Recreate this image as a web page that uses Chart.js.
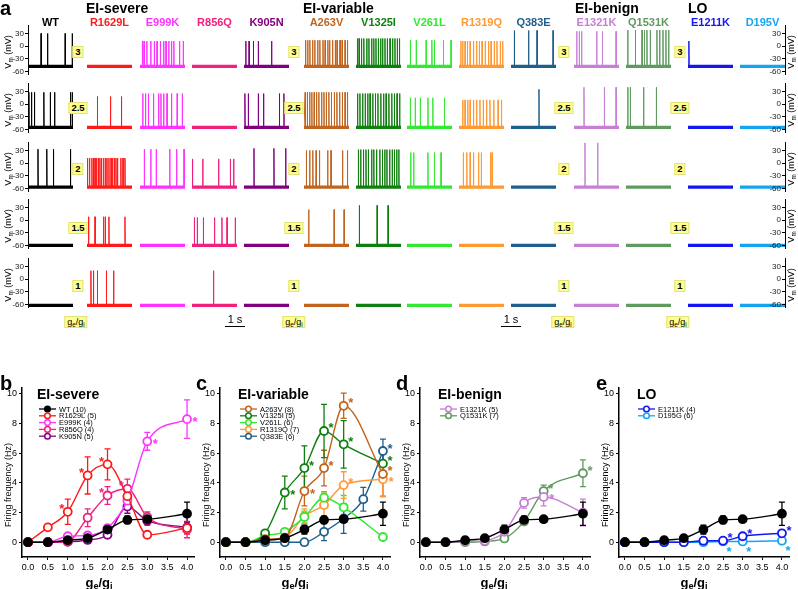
<!DOCTYPE html>
<html>
<head>
<meta charset="utf-8">
<script src="https://cdn.jsdelivr.net/npm/chart.js@4.4.1/dist/chart.umd.min.js"></script>
<style>
  body { margin: 0; background: #fff; font-family: "Liberation Sans", Arial, sans-serif; }
  #page { position: relative; width: 798px; height: 589px; overflow: hidden; }
  #page canvas { position: absolute; }
  .t { position: absolute; white-space: nowrap; color: #000; }
  .c { transform: translate(-50%, -50%); }
  .rot { transform: translate(-50%, -50%) rotate(-90deg); }
  .box { background: #ffff8f; border: 1px solid #e2e27a; padding: 0 2px; line-height: 10px; }
  sub { font-size: 70%; vertical-align: -2px; line-height: 0; }
</style>
</head>
<body>
<div id="page"></div>
<script>
// ---------- panel a: example traces ----------
const genotypes = ['WT', 'R1629L', 'E999K', 'R856Q', 'K905N', 'A263V', 'V1325I', 'V261L',
  'R1319Q', 'Q383E', 'E1321K', 'Q1531K', 'E1211K', 'D195V'];
const genoColors = ['#000000', '#ff1a1a', '#ff33ff', '#f0217d', '#800080', '#c0641e', '#0f7f0f',
  '#33e833', '#ff9933', '#1f5f8c', '#c77fd6', '#5f9a5f', '#1515f0', '#15a5f0'];
const gainSteps = ['3', '2.5', '2', '1.5', '1'];
const restVm = [-48, -55, -57, -60, -62];   // mV, baseline of each gain row
const TRACE_DUR = 2.3;                      // s

// spike times (s), one list per genotype
const spikesG3 = [
  [0.67, 1.0, 1.9, 2.26],
  [],
  [0.12, 0.21, 0.35, 0.55, 0.73, 0.87, 1.04, 1.21, 1.33, 1.47, 1.61, 1.73, 2.02, 2.21],
  [],
  [0.09, 0.26, 0.48, 0.73, 1.41],
  [0.08, 0.19, 0.3, 0.44, 0.55, 0.7, 0.81, 0.97, 1.08, 1.22, 1.31, 1.46, 1.6, 1.69, 1.84, 1.95, 2.1, 2.22],
  [0.07, 0.16, 0.28, 0.4, 0.55, 0.66, 0.8, 0.91, 1.02, 1.14, 1.26, 1.36, 1.48, 1.6, 1.74, 1.87, 1.99, 2.11, 2.22],
  [0.17, 0.47, 0.98, 1.27, 1.4, 1.86, 2.25],
  [0.09, 0.19, 0.31, 0.43, 0.57, 0.74, 0.9, 1.04, 1.18, 1.34, 1.51, 1.64, 1.8, 1.94, 2.11, 2.23],
  [0.17, 0.9, 1.33, 2.15],
  [0.14, 0.27, 0.39, 1.16, 1.45, 2.15],
  [0.09, 0.48, 0.82, 0.94, 1.07, 1.24, 1.58, 1.72, 1.89, 2.04, 2.18],
  [0.05],
  []
];
const spikesG25 = [
  [0.05, 0.18, 0.33, 0.81, 1.14, 1.36, 2.17, 2.26],
  [0.53, 1.2, 1.76],
  [0.14, 0.28, 0.43, 0.69, 0.95, 1.07, 1.21, 1.38, 1.61, 1.9, 2.16],
  [],
  [0.05, 0.22, 0.73, 1.0, 1.81, 2.04],
  [0.06, 0.17, 0.29, 0.4, 0.52, 0.64, 0.76, 0.9, 1.02, 1.14, 1.27, 1.4, 1.55, 1.68, 1.82, 1.96, 2.1, 2.22],
  [0.08, 0.2, 0.34, 0.47, 0.6, 0.72, 0.86, 0.99, 1.12, 1.27, 1.41, 1.54, 1.68, 1.83, 1.96, 2.1, 2.23],
  [0.17, 0.42, 0.68, 1.07, 1.32, 1.91],
  [0.19, 0.31, 0.45, 0.57, 0.74, 0.9, 1.07, 1.24, 1.41, 1.58, 1.78, 2.0, 2.17],
  [1.43],
  [0.51, 1.55, 2.15],
  [0.09, 0.22, 0.9, 1.55],
  [],
  []
];
const spikesG2 = [
  [0.51, 0.96, 1.3, 2.17],
  [0.03, 0.13, 0.25, 0.33, 0.41, 0.49, 0.58, 0.66, 0.74, 0.85, 0.95, 1.02, 1.12, 1.23, 1.31, 1.4, 1.48, 1.56, 1.73, 1.84, 1.94],
  [0.22, 0.55, 0.83, 1.52, 1.87, 2.25],
  [0.03, 0.55, 1.36, 1.96, 2.13],
  [0.51, 1.53, 2.13],
  [0.12, 0.29, 0.45, 0.62, 0.79, 1.21, 1.38, 1.97, 2.22],
  [0.12, 0.24, 0.38, 0.51, 0.63, 0.8, 0.91, 1.05, 1.22, 1.35, 1.47, 1.58, 1.72, 1.85, 1.96, 2.08, 2.19],
  [0.19, 0.34, 1.07, 1.4, 1.74],
  [0.22, 0.4, 0.57, 0.74, 1.0, 1.14, 1.61, 1.69],
  [],
  [0.56, 1.21],
  [],
  [],
  []
];
const spikesG15 = [
  [], [0.08, 0.41, 0.85, 0.94, 1.12, 1.94], [], [0.12, 0.27, 0.58, 1.15, 1.53, 1.79, 2.21], [],
  [0.24, 1.54, 2.05], [0.17, 1.08, 1.64], [], [], [], [], [], [], []
];
const spikesG1 = [
  [], [0.2, 0.33, 0.53, 0.99, 1.36], [], [1.1], [], [], [], [], [], [], [], [], [], []
];
// spike peak (mV) per genotype
const peaksG3 = [30, 0, 12, 0, 12, 14, 18, 14, 12, 37, 35, 38, 12, 0];
const peaksG25 = [28, 18, 25, 0, 25, 28, 25, 15, 10, 35, 40, 40, 0, 0];
const peaksG2 = [33, 12, 33, 10, 35, 30, 32, 25, 25, 0, 48, 0, 0, 0];
const peaksG15 = [0, 8, 0, 6, 0, 25, 35, 0, 0, 0, 0, 0, 0, 0];
const peaksG1 = [0, 20, 0, 20, 0, 0, 0, 0, 0, 0, 0, 0, 0, 0];

const spikeTimes = [spikesG3, spikesG25, spikesG2, spikesG15, spikesG1];
const spikePeaks = [peaksG3, peaksG25, peaksG2, peaksG15, peaksG1];

// ---------- panels b-e: firing frequency vs ge/gi ----------
const ratio = [0, 0.5, 1, 1.5, 2, 2.5, 3, 4];
const ratioQ383E = [0, 0.5, 1, 1.5, 2, 2.5, 3, 3.5, 4];

const wtHz = [0, 0, 0.13, 0.27, 0.85, 1.5, 1.55, 1.92];
const wtSem = [0, 0, 0.05, 0.08, 0.3, 0.25, 0.15, 0.78];

const r1629lHz = [0, 1.0, 2.05, 4.5, 5.25, 3.1, 0.5, 0.95];
const r1629lSem = [0, 0.2, 0.85, 1.25, 1.05, 0.5, 0.15, 0.4];
const e999kHz = [0, 0, 0.4, 0.45, 0.95, 2.8, 6.8, 8.3];
const e999kSem = [0, 0, 0.1, 0.15, 0.15, 0.5, 0.6, 1.3];
const r856qHz = [0, 0, 0.05, 1.65, 3.15, 3.6, 1.7, 0.85];
const r856qSem = [0, 0, 0.05, 0.6, 0.6, 0.65, 0.35, 0.55];
const k905nHz = [0, 0, 0.02, 0.15, 0.5, 2.4, 1.45, 1.0];
const k905nSem = [0, 0, 0.02, 0.1, 0.15, 0.45, 0.3, 0.35];

const a263vHz = [0, 0, 0.2, 0.3, 3.45, 5.0, 9.2, 4.6];
const a263vSem = [0, 0, 0.1, 0.15, 1.0, 1.2, 0.85, 1.5];
const v1325iHz = [0, 0, 0.6, 3.35, 5.0, 7.5, 6.6, 5.3];
const v1325iSem = [0, 0, 0.15, 1.1, 1.5, 1.8, 1.6, 0.8];
const v261lHz = [0, 0, 0.45, 0.7, 1.7, 3.0, 2.35, 0.35];
const v261lSem = [0, 0, 0.1, 0.2, 0.4, 0.4, 0.8, 0.1];
const r1319qHz = [0, 0, 0.15, 0.3, 1.75, 2.5, 3.85, 4.25];
const r1319qSem = [0, 0, 0.1, 0.15, 0.5, 0.8, 0.9, 1.2];
const q383eHz = [0, 0, 0, 0, 0, 0.7, 1.6, 2.9, 6.15];
const q383eSem = [0, 0, 0, 0, 0, 0.6, 1.0, 0.8, 0.8];

const e1321kHz = [0, 0, 0.05, 0.1, 0.7, 2.65, 3.05, 2.0];
const e1321kSem = [0, 0, 0.03, 0.05, 0.15, 0.35, 0.6, 0.9];
const q1531kHz = [0, 0, 0, 0.05, 0.25, 1.4, 3.45, 4.65];
const q1531kSem = [0, 0, 0, 0.03, 0.1, 0.2, 0.4, 0.9];

const e1211kHz = [0, 0, 0, 0, 0.1, 0.1, 0.4, 0.6];
const e1211kSem = [0, 0, 0, 0, 0.05, 0.05, 0.1, 0.2];
const d195gHz = [0, 0, 0, 0, 0, 0.05, 0.05, 0.1];
const d195gSem = [0, 0, 0, 0, 0, 0.03, 0.03, 0.05];

// significance marks: [ge/gi, side of the point]
const sigR1629L = [[1, 'ul'], [1.5, 'ul'], [2, 'ul']];
const sigR856Q = [[2, 'ul'], [2.5, 'ul']];
const sigE999K = [[3, 'r'], [4, 'r']];
const sigA263V = [[2, 'r'], [2.5, 'ur'], [3, 'ur'], [4, 'ur']];
const sigV1325I = [[1.5, 'r'], [2, 'ur'], [2.5, 'ur'], [3, 'ur'], [4, 'ur']];
const sigR1319Q = [[3, 'ur'], [4, 'r']];
const sigQ383E = [[4, 'ur']];
const sigE1321K = [[3, 'r']];
const sigQ1531K = [[3, 'ur'], [4, 'ur']];
const sigE1211K = [[2.5, 'ur'], [3, 'ur'], [4, 'ur']];
const sigD195G = [[2.5, 'dr'], [3, 'dr'], [4, 'dr']];

// ---------- layout ----------
const page = document.getElementById('page');
const FONT = '"Liberation Sans", Arial, sans-serif';
Chart.defaults.font.family = FONT;
Chart.defaults.color = '#000';

const colX = [28, 87, 140, 192, 244, 304, 356, 407, 459, 511, 574, 626, 688, 740];
const TRACE_W = 45, TRACE_H = 49, PAD_V = 6;
const VM_MIN = -66, VM_MAX = 50;
const row30 = [33, 91, 150, 207, 266];   // y pixel of the +30 mV tick per row
const pxPerMv = TRACE_H / (VM_MAX - VM_MIN);

function addCanvas(left, top, w, h) {
  const cv = document.createElement('canvas');
  cv.width = w; cv.height = h;
  cv.style.left = left + 'px'; cv.style.top = top + 'px';
  cv.style.width = w + 'px'; cv.style.height = h + 'px';
  page.appendChild(cv);
  return cv;
}

function addText(html, x, y, css, cls) {
  const d = document.createElement('div');
  d.className = 't ' + (cls || 'c');
  d.innerHTML = html;
  d.style.left = x + 'px'; d.style.top = y + 'px';
  d.style.cssText += css || '';
  page.appendChild(d);
  return d;
}

// y axis in mV, drawn on the left edge of a chart area
function vmAxis(width) {
  return {
    min: VM_MIN, max: VM_MAX, position: 'left',
    afterFit: s => { s.width = width; },
    border: { color: '#000', width: 1 },
    grid: { drawOnChartArea: false, tickLength: 3, color: '#000' },
    ticks: { stepSize: 30, includeBounds: false, padding: 1, font: { size: 8 }, color: '#222' }
  };
}

function drawTrace(r, c) {
  const axL = c === 0 ? 27 : 0;
  const top = row30[r] - (VM_MAX - 30) * pxPerMv - PAD_V;
  const cv = addCanvas(colX[c] - axL, top, TRACE_W + axL, TRACE_H + 2 * PAD_V);
  const base = restVm[r], peak = spikePeaks[r][c], col = genoColors[c];
  const pts = [{x: 0, y: base}];
  spikeTimes[r][c].forEach(t => {
    pts.push({x: t - 0.01, y: base}, {x: t, y: peak}, {x: t + 0.012, y: base});
  });
  pts.push({x: TRACE_DUR, y: base});

  const yScale = c === 0 ? vmAxis(axL) : { min: VM_MIN, max: VM_MAX, display: false };
  new Chart(cv, {
    type: 'line',
    data: {
      datasets: [
        { data: [{x: 0, y: base}, {x: TRACE_DUR, y: base}], borderColor: col, borderWidth: 3.2 },
        { data: pts, borderColor: col, borderWidth: 1 }
      ]
    },
    options: {
      responsive: false, animation: false, events: [],
      layout: { padding: { top: PAD_V, bottom: PAD_V, left: 0, right: 0 } },
      elements: { point: { radius: 0 }, line: { tension: 0 } },
      plugins: { legend: { display: false }, tooltip: { enabled: false } },
      scales: {
        x: { type: 'linear', min: 0, max: TRACE_DUR, display: false },
        y: yScale
      }
    }
  });
}

// right-hand mV axis: labels sit left of the line, over the last trace
function drawRightAxis(r) {
  const axisX = colX[colX.length - 1] + TRACE_W;
  const top = row30[r] - (VM_MAX - 30) * pxPerMv - PAD_V;
  const cv = addCanvas(axisX - 20, top, 21, TRACE_H + 2 * PAD_V);
  new Chart(cv, {
    type: 'line',
    data: { datasets: [] },
    options: {
      responsive: false, animation: false, events: [],
      layout: { padding: { top: PAD_V, bottom: PAD_V, left: 0, right: 0 } },
      plugins: { legend: { display: false }, tooltip: { enabled: false } },
      scales: {
        x: { type: 'linear', min: 0, max: 1, display: false },
        y: vmAxis(20)
      }
    }
  });
}

for (let r = 0; r < gainSteps.length; r++) {
  for (let c = 0; c < genotypes.length; c++) drawTrace(r, c);
  drawRightAxis(r);
}

// panel a text
addText('a', 0, -3, 'font-weight:bold;font-size:20px;', 'x');
addText('EI-severe', 86, 0, 'font-weight:bold;font-size:14px;', 'x');
addText('EI-variable', 303, 0, 'font-weight:bold;font-size:14px;', 'x');
addText('EI-benign', 575, 0, 'font-weight:bold;font-size:14px;', 'x');
addText('LO', 688, 0, 'font-weight:bold;font-size:14px;', 'x');
genotypes.forEach((g, c) => {
  addText(g, colX[c] + TRACE_W / 2, 21.5, `font-weight:bold;font-size:11px;color:${genoColors[c]};`);
});
const gainBoxX = [78, 294, 564, 680];
const gainBoxY = [52, 108, 169, 228, 286];
gainSteps.forEach((g, r) => {
  gainBoxX.forEach(x => addText(g, x, gainBoxY[r], 'font-weight:bold;font-size:9.5px;', 'c box'));
  addText('V<sub>m</sub> (mV)', 8, row30[r] + 19, 'font-size:9px;', 'rot');
  addText('V<sub>m</sub> (mV)', 791, row30[r] + 19, 'font-size:9px;', 'rot');
});
[76, 294, 563, 678].forEach(x => addText('g<sub>e</sub>/g<sub>i</sub>', x, 322, 'font-size:9px;', 'c box'));
const pxPerSec = TRACE_W / TRACE_DUR;
[235, 511].forEach(x => {
  addText('1 s', x, 318.5, 'font-size:11px;');
  const bar = document.createElement('div');
  bar.style.cssText = `position:absolute;left:${x - pxPerSec / 2}px;top:326px;width:${pxPerSec}px;height:0;border-top:1.6px solid #000;`;
  page.appendChild(bar);
});

// ---------- plugins for panels b-e ----------
const errorBars = {
  id: 'errorBars',
  beforeDatasetsDraw(chart) {
    const ctx = chart.ctx, ys = chart.scales.y;
    chart.data.datasets.forEach((ds, i) => {
      const meta = chart.getDatasetMeta(i);
      ctx.save();
      ctx.strokeStyle = ds.borderColor; ctx.lineWidth = 1.3;
      meta.data.forEach((pt, j) => {
        const v = ds.data[j].y, e = ds.sem[j];
        if (!e || e < 0.12) return;
        const y1 = ys.getPixelForValue(v + e), y2 = ys.getPixelForValue(v - e);
        ctx.beginPath();
        ctx.moveTo(pt.x, y1); ctx.lineTo(pt.x, y2);
        ctx.moveTo(pt.x - 3, y1); ctx.lineTo(pt.x + 3, y1);
        ctx.moveTo(pt.x - 3, y2); ctx.lineTo(pt.x + 3, y2);
        ctx.stroke();
      });
      ctx.restore();
    });
  }
};

const starOffset = { ur: [7, -6], ul: [-6, -6], r: [8, -1], dr: [6, 7] };
const sigStars = {
  id: 'sigStars',
  afterDatasetsDraw(chart) {
    const ctx = chart.ctx;
    chart.data.datasets.forEach((ds, i) => {
      if (!ds.sig) return;
      const meta = chart.getDatasetMeta(i);
      ctx.save();
      ctx.fillStyle = ds.borderColor;
      ctx.font = 'bold 13px ' + FONT;
      ctx.textAlign = 'center'; ctx.textBaseline = 'alphabetic';
      ds.sig.forEach(([x, side]) => {
        const j = ds.data.findIndex(d => d.x === x);
        const pt = meta.data[j], off = starOffset[side];
        ctx.fillText('*', pt.x + off[0], pt.y + off[1] + 7.5);
      });
      ctx.restore();
    });
  }
};

const lineLegend = {
  id: 'lineLegend',
  afterDraw(chart, args, opts) {
    const ctx = chart.ctx, a = chart.chartArea;
    chart.data.datasets.filter(ds => ds.inLegend).forEach((ds, i) => {
      const x = a.left + opts.x, y = a.top + opts.y + i * opts.gap;
      ctx.save();
      ctx.strokeStyle = ds.borderColor; ctx.lineWidth = 1.3;
      ctx.beginPath(); ctx.moveTo(x, y); ctx.lineTo(x + 17, y); ctx.stroke();
      ctx.beginPath(); ctx.arc(x + 8.5, y, 2.8, 0, Math.PI * 2);
      ctx.fillStyle = ds.pointBackgroundColor; ctx.fill();
      ctx.lineWidth = 1.5; ctx.stroke();
      ctx.fillStyle = '#000'; ctx.font = '7.5px ' + FONT;
      ctx.textBaseline = 'middle';
      ctx.fillText(ds.label, x + 20, y + 0.5);
      ctx.restore();
    });
  }
};

function series(label, x, y, sem, color, sig, filled, inLegend = true) {
  return {
    label, sem, sig, inLegend,
    data: x.map((v, i) => ({x: v, y: y[i]})),
    borderColor: color, backgroundColor: color, borderWidth: 1.4,
    pointRadius: 4, pointBorderWidth: 1.8,
    pointBackgroundColor: filled ? color : '#fff',
    cubicInterpolationMode: 'monotone',
    order: filled ? 0 : 1
  };
}

function drawPanel(p) {
  const cv = addCanvas(p.left, 375, p.width, 214);
  new Chart(cv, {
    type: 'line',
    data: { datasets: p.datasets },
    options: {
      responsive: false, animation: false, events: [],
      layout: { padding: { top: 13, bottom: 12, left: 0, right: p.padR } },
      plugins: {
        legend: { display: false }, tooltip: { enabled: false },
        lineLegend: { x: p.legX, y: 21, gap: 6.8 }
      },
      scales: {
        x: {
          type: 'linear', min: -0.15, max: 4.18,
          afterFit: s => { s.height = 20; },
          border: { color: '#000', width: 1.5 },
          grid: { drawOnChartArea: false, tickLength: 3, color: '#000' },
          ticks: { stepSize: 0.5, includeBounds: false, autoSkip: false, maxRotation: 0,
                   padding: 2, font: { size: 9 }, callback: v => v.toFixed(1) }
        },
        y: {
          min: -1, max: 10.4,
          afterFit: s => { s.width = p.axisW; },
          border: { color: '#000', width: 1.5 },
          grid: { drawOnChartArea: false, tickLength: 3, color: '#000' },
          ticks: { stepSize: 2, includeBounds: false, padding: 2, font: { size: 9 } }
        }
      }
    },
    plugins: [errorBars, sigStars, lineLegend]
  });
  addText(p.letter, p.left, 372, 'font-weight:bold;font-size:20px;', 'x');
  addText(p.title, p.titleX, 386, 'font-weight:bold;font-size:14px;', 'x');
  addText('Firing frequency (Hz)', p.left + p.axisW - 14.5, 485, 'font-size:9px;', 'rot');
  addText('g<sub>e</sub>/g<sub>i</sub>', p.xTitleX, 582, 'font-weight:bold;font-size:13px;');
}

const wt = shown => series('WT (10)', ratio, wtHz, wtSem, '#000000', null, true, shown);

drawPanel({
  left: 0, width: 200, axisW: 22, padR: 3, legX: 17, letter: 'b', title: 'EI-severe', titleX: 37, xTitleX: 99,
  datasets: [
    wt(true),
    series('R1629L (5)', ratio, r1629lHz, r1629lSem, '#ff1a1a', sigR1629L),
    series('E999K (4)', ratio, e999kHz, e999kSem, '#ff33ff', sigE999K),
    series('R856Q (4)', ratio, r856qHz, r856qSem, '#f0217d', sigR856Q),
    series('K905N (5)', ratio, k905nHz, k905nSem, '#800080')
  ]
});
drawPanel({
  left: 196, width: 200, axisW: 24, padR: 6, legX: 20, letter: 'c', title: 'EI-variable', titleX: 238, xTitleX: 295,
  datasets: [
    series('A263V (8)', ratio, a263vHz, a263vSem, '#c0641e', sigA263V),
    series('V1325I (5)', ratio, v1325iHz, v1325iSem, '#0f7f0f', sigV1325I),
    series('V261L (6)', ratio, v261lHz, v261lSem, '#33e833'),
    series('R1319Q (7)', ratio, r1319qHz, r1319qSem, '#ff9933', sigR1319Q),
    series('Q383E (6)', ratioQ383E, q383eHz, q383eSem, '#1f5f8c', sigQ383E),
    wt(false)
  ]
});
drawPanel({
  left: 396, width: 200, axisW: 24, padR: 6, legX: 20, letter: 'd', title: 'EI-benign', titleX: 438, xTitleX: 494,
  datasets: [
    series('E1321K (5)', ratio, e1321kHz, e1321kSem, '#c77fd6', sigE1321K),
    series('Q1531K (7)', ratio, q1531kHz, q1531kSem, '#5f9a5f', sigQ1531K),
    wt(false)
  ]
});
drawPanel({
  left: 596, width: 202, axisW: 23, padR: 9, legX: 19, letter: 'e', title: 'LO', titleX: 637, xTitleX: 694,
  datasets: [
    series('E1211K (4)', ratio, e1211kHz, e1211kSem, '#1515f0', sigE1211K),
    series('D195G (6)', ratio, d195gHz, d195gSem, '#15a5f0', sigD195G),
    wt(false)
  ]
});
</script>
</body>
</html>
